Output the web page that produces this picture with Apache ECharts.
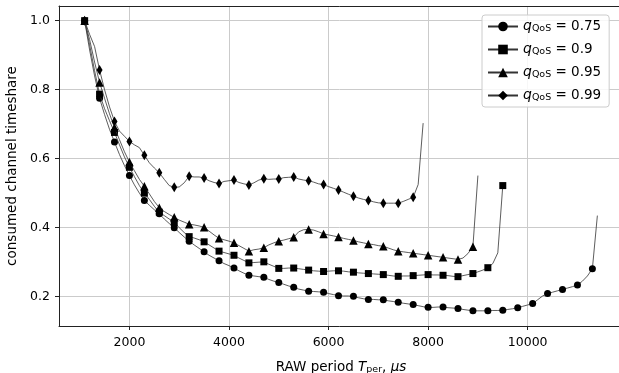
<!DOCTYPE html>
<html>
<head>
<meta charset="utf-8">
<script src="https://cdn.jsdelivr.net/npm/echarts@6/dist/echarts.min.js"></script>
<style>
html,body{margin:0;padding:0;background:#fff;overflow:hidden;}
#chart{width:619px;height:373px;overflow:hidden;}
</style>
</head>
<body>
<div id="chart"></div>
<script>
// RAW period sample grid (µs)
const periods = [1100,1200,1300,1400,1500,1600,1700,1800,1900,2000,2100,2200,2300,2400,2500,2600,2700,2800,2900,3000,
3100,3200,3300,3400,3500,3600,3700,3800,3900,4000,4100,4200,4300,4400,4500,4600,4700,4800,4900,5000,
5100,5200,5300,5400,5500,5600,5700,5800,5900,6000,6100,6200,6300,6400,6500,6600,6700,6800,6900,7000,
7100,7200,7300,7400,7500,7600,7700,7800,7900,8000,8100,8200,8300,8400,8500,8600,8700,8800,8900,9000,
9100,9200,9300,9400,9500,9600,9700,9800,9900,10000,10100,10200,10300,10400,10500,10600,10700,10800,10900,11000,
11100,11200,11300,11400];

// consumed channel timeshare per q_QoS
const q075 = [1.000,0.915,0.840,0.775,0.728,0.685,0.648,0.612,0.580,0.551,0.524,0.500,0.479,0.465,0.452,0.440,0.425,0.412,0.400,0.386,
0.373,0.361,0.350,0.340,0.330,0.320,0.312,0.304,0.296,0.290,0.283,0.275,0.268,0.262,0.260,0.258,0.256,0.250,0.245,0.241,
0.236,0.231,0.227,0.222,0.219,0.216,0.215,0.214,0.213,0.209,0.206,0.203,0.202,0.202,0.201,0.197,0.194,0.192,0.192,0.191,
0.191,0.188,0.186,0.184,0.181,0.179,0.177,0.174,0.171,0.169,0.169,0.170,0.170,0.168,0.167,0.166,0.163,0.161,0.159,0.159,
0.159,0.159,0.160,0.160,0.161,0.163,0.165,0.168,0.172,0.176,0.180,0.191,0.202,0.209,0.213,0.217,0.221,0.225,0.229,0.234,
0.245,0.260,0.281,0.435];
const q090 = [1.000,0.930,0.855,0.787,0.745,0.710,0.676,0.640,0.605,0.575,0.548,0.522,0.500,0.482,0.462,0.445,0.435,0.425,0.415,0.400,
0.386,0.374,0.370,0.365,0.359,0.350,0.341,0.332,0.328,0.324,0.320,0.312,0.305,0.298,0.299,0.300,0.301,0.294,0.288,0.282,
0.282,0.283,0.283,0.281,0.279,0.277,0.275,0.274,0.273,0.274,0.275,0.275,0.274,0.272,0.271,0.269,0.268,0.267,0.266,0.265,
0.264,0.262,0.260,0.259,0.260,0.260,0.261,0.262,0.263,0.264,0.263,0.263,0.262,0.261,0.259,0.258,0.261,0.264,0.267,0.272,
0.277,0.284,0.296,0.327,0.522];
const q095 = [1.000,0.945,0.880,0.821,0.775,0.730,0.690,0.655,0.620,0.590,0.565,0.540,0.520,0.498,0.476,0.458,0.447,0.438,0.430,0.422,
0.416,0.410,0.408,0.405,0.401,0.390,0.379,0.369,0.365,0.361,0.356,0.348,0.340,0.332,0.336,0.338,0.342,0.350,0.356,0.361,
0.364,0.368,0.372,0.388,0.394,0.395,0.393,0.388,0.382,0.379,0.376,0.373,0.369,0.366,0.363,0.359,0.356,0.353,0.351,0.348,
0.346,0.341,0.336,0.332,0.330,0.328,0.326,0.324,0.322,0.320,0.318,0.316,0.314,0.312,0.310,0.308,0.312,0.325,0.345,0.551];
const q099 = [1.000,0.960,0.925,0.857,0.800,0.750,0.708,0.680,0.665,0.650,0.640,0.632,0.610,0.588,0.573,0.559,0.540,0.522,0.517,0.518,
0.530,0.549,0.547,0.547,0.544,0.536,0.531,0.528,0.534,0.536,0.538,0.531,0.527,0.524,0.530,0.538,0.542,0.540,0.541,0.541,
0.545,0.546,0.547,0.541,0.538,0.536,0.532,0.527,0.525,0.519,0.514,0.509,0.503,0.497,0.491,0.486,0.482,0.479,0.475,0.472,
0.471,0.471,0.471,0.471,0.476,0.482,0.488,0.525,0.703];

const seriesNames = ['0.75','0.9','0.95','0.99'];
const xTicks = [2000,4000,6000,8000,10000];
const yTicks = [0.2,0.4,0.6,0.8,1.0];

const MARK_EVERY = 3;
const FONT = 'DejaVu Sans';
const shapes = ['circle','rect','triangle','diamond'];
const sizes = [7,7,8.5,[6,10]];
const allValues = [q075,q090,q095,q099];

const chart = echarts.init(document.getElementById('chart'), null, {renderer:'canvas'});

const gridStyle = {color: '#cbcbcb', width: 1, type: 'solid'};
const gridSeries = {
  name: '__grid', type: 'line', data: [], silent: true, z: 0,
  markLine: {
    silent: true, symbol: ['none','none'], animation: false, z: 0,
    label: {show: false}, lineStyle: gridStyle,
    emphasis: {disabled: true},
    data: xTicks.map(v => ({xAxis: v})).concat(yTicks.map(v => ({yAxis: v})))
  }
};

const series = [gridSeries].concat(allValues.map((vals, s) => ({
  name: seriesNames[s],
  type: 'line',
  symbol: shapes[s],
  symbolSize: sizes[s],
  showAllSymbol: true,
  smooth: false,
  lineStyle: {color:'#333', width:0.8},
  itemStyle: {color:'#000', borderWidth:0},
  emphasis: {disabled:true},
  z: 2 + s,
  data: vals.map((v, i) => ({
    value: [periods[i], v],
    symbol: (i % MARK_EVERY === 0) ? shapes[s] : 'none'
  }))
})));

const option = {
  animation: false,
  backgroundColor: '#fff',
  textStyle: {fontFamily: FONT},
  grid: {left: 59, right: -4, top: 6, bottom: 47, outerBoundsMode: 'none', containLabel: false, show: false},
  legend: {
    left: 482, top: 15,
    orient: 'vertical',
    backgroundColor: 'rgba(255,255,255,0.85)',
    borderColor: '#ccc', borderWidth: 1, borderRadius: 3,
    padding: [4, 8, 4, 5],
    itemWidth: 30, itemHeight: 12, itemGap: 8,
    data: seriesNames,
    formatter: n => '{q|q}{s|QoS}{e| = ' + n + '}',
    textStyle: {
      fontFamily: FONT, color: '#000',
      rich: {
        q: {fontSize: 14, fontStyle: 'italic', fontFamily: FONT, lineHeight: 15, verticalAlign: 'middle'},
        s: {fontSize: 9.5, fontFamily: FONT, lineHeight: 15, padding: [5,0,0,0]},
        e: {fontSize: 13.5, fontFamily: FONT, lineHeight: 15, verticalAlign: 'middle'}
      }
    }
  },
  xAxis: [{
    type: 'value', min: 585, max: 11915,
    name: '{n|RAW period }{i|T}{s|per}{n|, }{i|μs}',
    nameLocation: 'middle', nameGap: 33,
    nameTextStyle: {
      rich: {
        n: {fontSize: 13.5, fontFamily: FONT, color:'#000', lineHeight: 16},
        i: {fontSize: 13.5, fontFamily: FONT, fontStyle: 'italic', color:'#000', lineHeight: 16},
        s: {fontSize: 9.5, fontFamily: FONT, color:'#000', lineHeight: 16, padding:[6,0,0,0]}
      }
    },
    axisLine: {lineStyle: {color: '#222', width: 1}},
    axisTick: {show: true, length: 4, inside: false, lineStyle:{color:'#222'}, customValues: xTicks},
    axisLabel: {fontSize: 12.5, fontFamily: FONT, color: '#000', margin: 10, customValues: xTicks,
      formatter: v => String(v)},
    splitLine: {show: false}
  }, {
    type: 'value', min: 585, max: 11915, position: 'top',
    axisLine: {show: true, onZero: false, lineStyle: {color: '#222', width: 1}},
    axisTick: {show: false}, axisLabel: {show: false}, splitLine: {show: false}
  }],
  yAxis: {
    type: 'value', min: 0.115, max: 1.0425,
    name: 'consumed channel timeshare',
    nameLocation: 'middle', nameGap: 36,
    nameTextStyle: {fontSize: 13.5, fontFamily: FONT, color:'#000'},
    axisLine: {show: true, onZero: false, lineStyle: {color: '#222', width: 1}},
    axisTick: {show: true, length: 4, lineStyle:{color:'#222'}, customValues: yTicks},
    axisLabel: {fontSize: 12.5, fontFamily: FONT, color: '#000', margin: 9, customValues: yTicks,
      formatter: v => v.toFixed(1)},
    splitLine: {show: false}
  },
  series: series
};
chart.setOption(option);
</script>
</body>
</html>
